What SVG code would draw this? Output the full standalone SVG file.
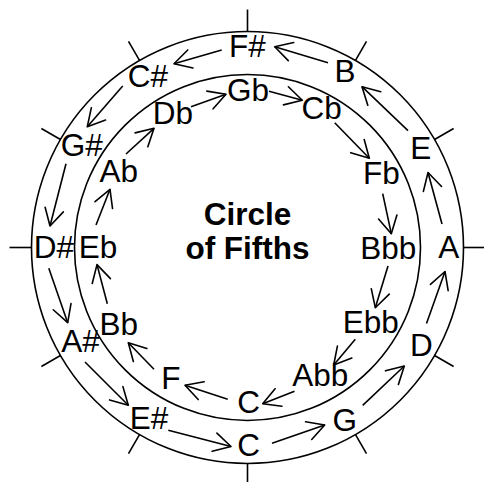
<svg xmlns="http://www.w3.org/2000/svg" width="484" height="482" viewBox="0 0 484 482">
<style>
.ring{fill:none;stroke:#000;stroke-width:1.6}
.tick{stroke:#000;stroke-width:1.6}
.arr{stroke:#000;stroke-width:1.6;fill:none;marker-end:url(#ah)}
.lbl{font-family:"Liberation Sans",Arial,sans-serif;font-size:31.5px;fill:#000;text-anchor:middle}
.title{font-family:"Liberation Sans",Arial,sans-serif;font-size:31.5px;font-weight:bold;fill:#000;text-anchor:middle}
</style>
<defs>
<marker id="ah" markerUnits="userSpaceOnUse" markerWidth="40" markerHeight="40" refX="0" refY="0" orient="auto" overflow="visible">
<path d="M-17,-9.4 L0,0 L-17,9.4" fill="none" stroke="#000" stroke-width="1.6" stroke-linecap="round" stroke-linejoin="round"/>
</marker>
</defs>
<rect width="484" height="482" fill="#fff"/>
<g id="rings">
<circle class="ring" cx="247.5" cy="247.5" r="216"/>
<circle class="ring" cx="247.5" cy="247.5" r="173"/>
<line class="tick" x1="463.5" y1="247.5" x2="485.5" y2="247.5"/>
<line class="tick" x1="434.56" y1="139.5" x2="453.6" y2="128.5"/>
<line class="tick" x1="355.5" y1="60.44" x2="366.5" y2="41.38"/>
<line class="tick" x1="247.5" y1="31.5" x2="247.5" y2="9.5"/>
<line class="tick" x1="139.5" y1="60.44" x2="128.5" y2="41.38"/>
<line class="tick" x1="60.44" y1="139.5" x2="41.38" y2="128.5"/>
<line class="tick" x1="31.5" y1="247.5" x2="9.5" y2="247.5"/>
<line class="tick" x1="60.44" y1="355.5" x2="41.38" y2="366.5"/>
<line class="tick" x1="139.5" y1="434.56" x2="128.5" y2="453.62"/>
<line class="tick" x1="247.5" y1="463.5" x2="247.5" y2="485.5"/>
<line class="tick" x1="355.5" y1="434.56" x2="366.5" y2="453.62"/>
<line class="tick" x1="434.56" y1="355.5" x2="453.62" y2="366.5"/>
</g>
<g id="title">
<text class="title" x="247.5" y="225">Circle</text>
<text class="title" x="247.5" y="258.5">of Fifths</text>
</g>
<g id="outer-F#"><text class="lbl" x="247.5" y="57">F#</text></g>
<g id="outer-B"><text class="lbl" x="345" y="81.7">B</text></g>
<g id="outer-E"><text class="lbl" x="420.7" y="159.3">E</text></g>
<g id="outer-A"><text class="lbl" x="448.7" y="257.7">A</text></g>
<g id="outer-D"><text class="lbl" x="421.3" y="356">D</text></g>
<g id="outer-G"><text class="lbl" x="344.8" y="430.5">G</text></g>
<g id="outer-C"><text class="lbl" x="248.5" y="456.3">C</text></g>
<g id="outer-E#"><text class="lbl" x="149" y="429.3">E#</text></g>
<g id="outer-A#"><text class="lbl" x="80.5" y="352">A#</text></g>
<g id="outer-D#"><text class="lbl" x="53.9" y="258.3">D#</text></g>
<g id="outer-G#"><text class="lbl" x="81.7" y="156">G#</text></g>
<g id="outer-C#"><text class="lbl" x="148" y="86.5">C#</text></g>
<g id="inner-Gb"><text class="lbl" x="248" y="100.5">Gb</text></g>
<g id="inner-Cb"><text class="lbl" x="321.7" y="118.7">Cb</text></g>
<g id="inner-Fb"><text class="lbl" x="381.5" y="184.3">Fb</text></g>
<g id="inner-Bbb"><text class="lbl" x="388.3" y="259.3">Bbb</text></g>
<g id="inner-Ebb"><text class="lbl" x="370.8" y="332.7">Ebb</text></g>
<g id="inner-Abb"><text class="lbl" x="320.3" y="386">Abb</text></g>
<g id="inner-C"><text class="lbl" x="248.5" y="413">C</text></g>
<g id="inner-F"><text class="lbl" x="170.8" y="389.3">F</text></g>
<g id="inner-Bb"><text class="lbl" x="118.7" y="335">Bb</text></g>
<g id="inner-Eb"><text class="lbl" x="98" y="258.3">Eb</text></g>
<g id="inner-Ab"><text class="lbl" x="118.7" y="181.7">Ab</text></g>
<g id="inner-Db"><text class="lbl" x="173" y="124">Db</text></g>
<g id="connectors">
<line class="arr" x1="272" y1="443.3" x2="324.7" y2="425"/>
<line class="arr" x1="362.7" y1="405.3" x2="404.3" y2="366"/>
<line class="arr" x1="426.5" y1="323.5" x2="445" y2="271.5"/>
<line class="arr" x1="442" y1="224" x2="428" y2="172.5"/>
<line class="arr" x1="408" y1="130.7" x2="362" y2="86.7"/>
<line class="arr" x1="328" y1="62.7" x2="274.7" y2="46.7"/>
<line class="arr" x1="221.7" y1="50" x2="174" y2="63.7"/>
<line class="arr" x1="122.7" y1="86" x2="87.3" y2="126.7"/>
<line class="arr" x1="66" y1="163.8" x2="50" y2="226"/>
<line class="arr" x1="48.8" y1="268.3" x2="67.7" y2="322.7"/>
<line class="arr" x1="85" y1="362" x2="128.3" y2="405.3"/>
<line class="arr" x1="168.3" y1="430.3" x2="231" y2="446.5"/>
<line class="arr" x1="294.5" y1="391.2" x2="262.7" y2="403.7"/>
<line class="arr" x1="227.7" y1="399.3" x2="185" y2="385.3"/>
<line class="arr" x1="154" y1="369.3" x2="128.3" y2="342.7"/>
<line class="arr" x1="107.3" y1="303.7" x2="97" y2="264.6"/>
<line class="arr" x1="96" y1="225" x2="110" y2="189.3"/>
<line class="arr" x1="126" y1="154" x2="154" y2="128.3"/>
<line class="arr" x1="191" y1="106.7" x2="226" y2="94.3"/>
<line class="arr" x1="269" y1="91.2" x2="302.3" y2="100.3"/>
<line class="arr" x1="334.7" y1="122.7" x2="369.3" y2="158.3"/>
<line class="arr" x1="382.7" y1="193.7" x2="391.3" y2="233.7"/>
<line class="arr" x1="388" y1="266" x2="375.3" y2="307.7"/>
<line class="arr" x1="355.3" y1="339.3" x2="333.7" y2="365"/>
</g>
</svg>
